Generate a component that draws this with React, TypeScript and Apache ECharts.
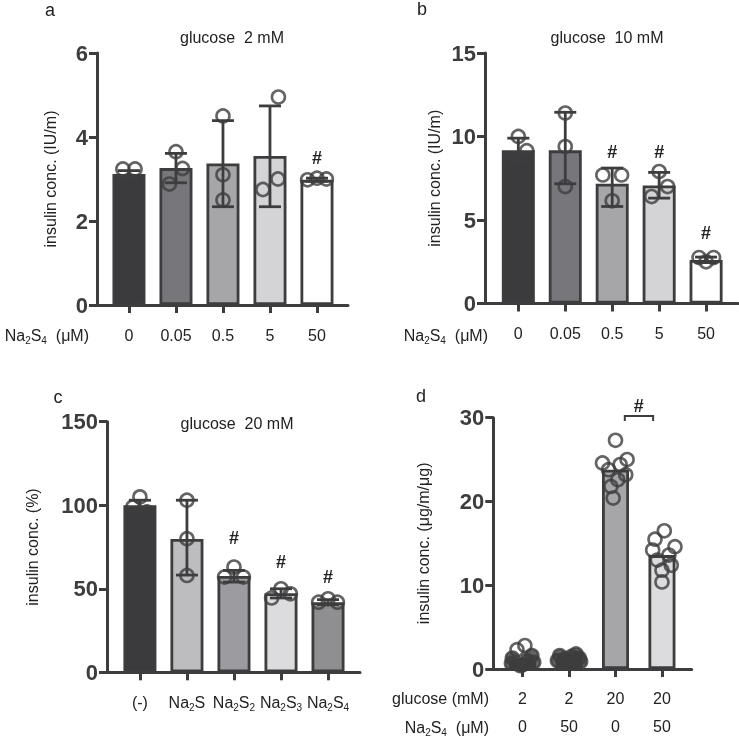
import React, { useEffect, useRef } from "react";
import * as echarts from "echarts";

const FONT = "'Liberation Sans', Arial, Helvetica, sans-serif";
const DARK = "#3d3d3f";
const TXT = "#222222";

// ---------- Panel a : glucose 2 mM ----------
const catsA = ["0", "0.05", "0.5", "5", "50"];
const meansA = [3.12, 3.26, 3.37, 3.55, 2.98];
const errLowA = [3.04, 2.91, 2.34, 2.34, 2.95];
const errHighA = [3.2, 3.61, 4.39, 4.74, 3.02];
const pointsA = [[3.24, 3.24, 2.95], [3.65, 3.25, 2.88], [4.5, 3.1, 2.5], [4.95, 2.75, 3.0], [2.98, 3.02, 3.0]];
const jitterA = [[-0.13, 0.13, 0], [0, 0.14, -0.14], [0, 0, 0], [0.18, -0.15, 0.17], [-0.2, 0, 0.2]];
const hashA = [null, null, null, null, 3.5];
const colorsA = ["#3b3b3d", "#77777b", "#a6a6a9", "#d4d4d6", "#ffffff"];

// ---------- Panel b : glucose 10 mM ----------
const catsB = ["0", "0.05", "0.5", "5", "50"];
const meansB = [9.17, 9.17, 7.17, 7.07, 2.61];
const errLowB = [8.45, 7.17, 5.81, 6.31, 2.45];
const errHighB = [9.9, 11.45, 8.11, 7.85, 2.78];
const pointsB = [[10.0, 9.15, 8.4], [11.4, 9.4, 7.0], [7.7, 7.7, 6.15], [7.9, 7.0, 6.4], [2.75, 2.75, 2.5]];
const jitterB = [[0, 0.18, -0.15], [0, 0, 0], [-0.2, 0.2, 0], [0, 0.18, -0.16], [-0.15, 0.16, 0]];
const hashB = [null, null, 9.1, 9.1, 4.2];
const colorsB = ["#3b3b3d", "#77777b", "#a6a6a9", "#d4d4d6", "#ffffff"];

// ---------- Panel c : glucose 20 mM ----------
const catsC = ["(-)", "Na{sub|2}S", "Na{sub|2}S{sub|2}", "Na{sub|2}S{sub|3}", "Na{sub|2}S{sub|4}"];
const meansC = [100, 79.8, 57.6, 47.3, 41.9];
const errLowC = [97, 58.2, 54, 44.5, 40.5];
const errHighC = [103, 103, 61, 50, 43.5];
const pointsC = [[105, 99, 96], [103, 80, 58], [63, 57, 57], [50, 47, 44.5], [44, 42, 42]];
const jitterC = [[0, -0.15, 0.15], [0, 0, 0], [0, -0.2, 0.2], [0, 0.2, -0.2], [0, -0.2, 0.2]];
const hashC = [null, null, 80.5, 66.2, 57.2];
const colorsC = ["#3b3b3d", "#bdbdbf", "#9c9ca0", "#dcdcde", "#8f8f92"];

// ---------- Panel d : glucose x Na2S4 ----------
const glucoseD = ["2", "2", "20", "20"];
const na2s4D = ["0", "50", "0", "50"];
const meansD = [1.1, 1.2, 23.8, 13.6];
const pointsD = [
  [2.8, 2.3, 1.6, 1.3, 1.0, 0.8, 0.7, 0.5, 0.4],
  [1.8, 1.6, 1.5, 1.3, 1.2, 1.0, 0.9, 0.8, 0.7],
  [27.3, 25.0, 24.6, 24.4, 23.8, 23.2, 22.6, 21.8, 20.4],
  [16.5, 15.5, 14.6, 14.2, 13.6, 13.0, 12.4, 11.8, 10.4],
];
const jitterD = [
  [0.05, -0.12, 0.2, -0.22, 0.1, 0.24, -0.24, 0, -0.05],
  [0.15, -0.2, 0.05, 0.22, -0.1, -0.25, 0.25, 0, 0.1],
  [0, 0.25, -0.28, 0.1, -0.15, 0.22, 0.05, -0.1, -0.05],
  [0.05, -0.15, 0.28, -0.2, 0.15, -0.1, 0.2, 0, 0],
];
const colorsD = ["#3b3b3d", "#3b3b3d", "#a6a6a9", "#dcdcde"];
const hashD = { x: 2.5, y: 31.4 };
const bracketD = { x1: 2.2, x2: 2.81, yLow: 29.6, yTop: 30.2 };

const subRich = {
  sub: { fontSize: 10, fontFamily: FONT, color: TXT, verticalAlign: "bottom", lineHeight: 8 },
};

function buildPanel(
  gi: number,
  grid: { left: number; top: number; width: number; height: number },
  xr: [number, number],
  ymax: number,
  yint: number,
  yName: string,
  nameGap: number,
  means: number[],
  colors: string[],
  points: number[][],
  jitter: number[][],
  labelFormatter: (i: number) => string,
  labelOpts: any,
  barWidth: number,
  symbolSize: number,
  errLow: number[] | null,
  errHigh: number[] | null,
  hashes: (number | null)[] | null,
  filledBelow: number
) {
  const idxs = means.map((_, i) => i);
  const gridOpt = { ...grid, outerBoundsMode: "none", containLabel: false };
  const xAxis = {
    gridIndex: gi,
    type: "value",
    position: "bottom",
    min: xr[0],
    max: xr[1],
    splitLine: { show: false },
    axisLine: { show: true, onZero: false, lineStyle: { color: DARK, width: 3 } },
    axisTick: { show: true, length: 8, customValues: idxs, lineStyle: { color: DARK, width: 3 } },
    axisLabel: {
      show: true,
      customValues: idxs,
      formatter: (v: number) => labelFormatter(Math.round(v)),
      color: TXT,
      fontSize: 16,
      fontFamily: FONT,
      rich: subRich,
      ...labelOpts,
    },
  };
  const yAxis = {
    gridIndex: gi,
    type: "value",
    position: "left",
    min: 0,
    max: ymax,
    interval: yint,
    name: yName,
    nameLocation: "middle",
    nameGap,
    nameTextStyle: { color: TXT, fontSize: 16, fontFamily: FONT },
    splitLine: { show: false },
    axisLine: { show: true, onZero: false, lineStyle: { color: DARK, width: 3 } },
    axisTick: { show: true, length: 8, lineStyle: { color: DARK, width: 3 } },
    axisLabel: { color: DARK, fontSize: 22, fontWeight: "bold", fontFamily: FONT, margin: 9 },
  };
  const series: any[] = [];
  series.push({
    type: "bar",
    xAxisIndex: gi,
    yAxisIndex: gi,
    barWidth,
    silent: true,
    z: 2,
    data: means.map((m, i) => ({
      value: [i, m],
      itemStyle: { color: colors[i], borderColor: DARK, borderWidth: 2.8 },
    })),
  });
  if (errLow && errHigh) {
    series.push({
      type: "custom",
      xAxisIndex: gi,
      yAxisIndex: gi,
      silent: true,
      z: 3,
      encode: { x: 0, y: [1, 2] },
      data: idxs.map((i) => [i, errLow[i], errHigh[i]]),
      renderItem: (_p: any, api: any) => {
        const x = api.value(0);
        const a = api.coord([x, api.value(1)]);
        const b = api.coord([x, api.value(2)]);
        const cw = 11;
        const st = { stroke: DARK, lineWidth: 2.8 };
        return {
          type: "group",
          children: [
            { type: "line", shape: { x1: a[0], y1: a[1], x2: b[0], y2: b[1] }, style: st },
            { type: "line", shape: { x1: a[0] - cw, y1: a[1], x2: a[0] + cw, y2: a[1] }, style: st },
            { type: "line", shape: { x1: b[0] - cw, y1: b[1], x2: b[0] + cw, y2: b[1] }, style: st },
          ],
        };
      },
    });
  }
  const pts: any[] = [];
  points.forEach((arr, i) =>
    arr.forEach((v, k) =>
      pts.push({
        value: [i + jitter[i][k], v],
        itemStyle: { color: v < filledBelow ? DARK : "rgba(0,0,0,0)" },
      })
    )
  );
  series.push({
    type: "scatter",
    xAxisIndex: gi,
    yAxisIndex: gi,
    silent: true,
    z: 4,
    symbol: "circle",
    symbolSize,
    clip: false,
    itemStyle: { borderColor: DARK, borderWidth: 2.6 },
    data: pts,
  });
  if (hashes) {
    series.push({
      type: "custom",
      xAxisIndex: gi,
      yAxisIndex: gi,
      silent: true,
      z: 5,
      data: hashes.map((h, i) => (h == null ? null : [i, h])).filter((d) => d),
      renderItem: (_p: any, api: any) => {
        const c = api.coord([api.value(0), api.value(1)]);
        return {
          type: "text",
          x: c[0],
          y: c[1],
          style: { text: "#", fill: TXT, font: `bold 18px ${FONT}`, align: "center", verticalAlign: "middle" },
        };
      },
    });
  }
  return { grid: gridOpt, xAxis, yAxis, series };
}

export default function App() {
  const ref = useRef<HTMLDivElement>(null);
  useEffect(() => {
    if (!ref.current) return;
    const chart = echarts.init(ref.current, undefined, { renderer: "svg" });

    const pA = buildPanel(0, { left: 97, top: 53, width: 251, height: 252 }, [-0.68, 4.66], 6, 2,
      "insulin conc. (IU/m)", 39, meansA, colorsA, pointsA, jitterA, (i) => catsA[i],
      { margin: 20, lineHeight: 20 }, 33, 13, errLowA, errHighA, hashA, -1);
    const pB = buildPanel(1, { left: 485, top: 53, width: 253, height: 250.5 }, [-0.71, 4.68], 15, 5,
      "insulin conc. (IU/m)", 43, meansB, colorsB, pointsB, jitterB, (i) => catsB[i],
      { margin: 20, lineHeight: 20 }, 33, 13, errLowB, errHighB, hashB, -1);
    const pC = buildPanel(2, { left: 107, top: 421.7, width: 253, height: 250.6 }, [-0.7, 4.68], 150, 50,
      "insulin conc. (%)", 67, meansC, colorsC, pointsC, jitterC, (i) => catsC[i],
      { margin: 20, lineHeight: 20 }, 33, 13, errLowC, errHighC, hashC, -1);
    const pD = buildPanel(3, { left: 493.3, top: 417.7, width: 198.4, height: 251.3 }, [-0.63, 3.64], 30, 10,
      "insulin conc. (μg/m/μg)", 62, meansD, colorsD, pointsD, jitterD,
      (i) => `${glucoseD[i]}\n${na2s4D[i]}`,
      { margin: 15, lineHeight: 28.5 }, 27, 13, null, null, null, 2.0);

    const bracketSeries = {
      type: "custom",
      xAxisIndex: 3,
      yAxisIndex: 3,
      silent: true,
      z: 5,
      data: [[bracketD.x1, bracketD.x2, bracketD.yLow, bracketD.yTop, hashD.x, hashD.y]],
      renderItem: (_p: any, api: any) => {
        const a = api.coord([api.value(0), api.value(2)]);
        const b = api.coord([api.value(0), api.value(3)]);
        const c = api.coord([api.value(1), api.value(3)]);
        const d = api.coord([api.value(1), api.value(2)]);
        const h = api.coord([api.value(4), api.value(5)]);
        return {
          type: "group",
          children: [
            { type: "polyline", shape: { points: [a, b, c, d] }, style: { stroke: DARK, lineWidth: 2, fill: null } },
            {
              type: "text", x: h[0], y: h[1],
              style: { text: "#", fill: TXT, font: `bold 18px ${FONT}`, align: "center", verticalAlign: "middle" },
            },
          ],
        };
      },
    };

    const txt = (text: string, x: number, y: number, size: number, align = "center", rich?: any) => ({
      type: "text",
      x,
      y,
      silent: true,
      style: {
        text,
        fill: TXT,
        font: `${size}px ${FONT}`,
        align,
        verticalAlign: "middle",
        lineHeight: 20,
        ...(rich ? { rich } : {}),
      },
    });
    const naLabel = "Na{sub|2}S{sub|4}  (μM)";

    const option: any = {
      animation: false,
      textStyle: { fontFamily: FONT },
      grid: [pA.grid, pB.grid, pC.grid, pD.grid],
      xAxis: [pA.xAxis, pB.xAxis, pC.xAxis, pD.xAxis],
      yAxis: [pA.yAxis, pB.yAxis, pC.yAxis, pD.yAxis],
      series: [...pA.series, ...pB.series, ...pC.series, ...pD.series, bracketSeries],
      graphic: [
        txt("a", 50, 10, 18),
        txt("b", 422, 9, 18),
        txt("c", 58, 397, 18),
        txt("d", 421, 396, 18),
        txt("glucose  2 mM", 232, 37, 16),
        txt("glucose  10 mM", 607, 37, 16),
        txt("glucose  20 mM", 237, 423, 16),
        txt(naLabel, 89, 335, 16, "right", subRich),
        txt(naLabel, 488, 335, 16, "right", subRich),
        txt("glucose (mM)", 489, 698, 16, "right"),
        txt(naLabel, 489, 727, 16, "right", subRich),
      ],
    };
    chart.setOption(option);
    return () => chart.dispose();
  }, []);
  return <div ref={ref} style={{ position: "fixed", left: 0, top: 0, width: 739, height: 736 }} />;
}
